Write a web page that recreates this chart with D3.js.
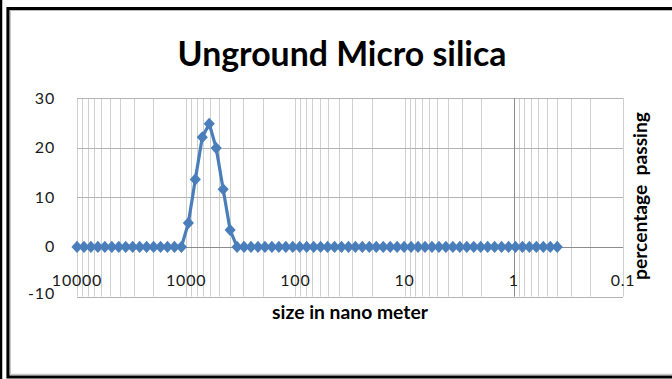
<!DOCTYPE html>
<html><head><meta charset="utf-8">
<script src="https://cdn.jsdelivr.net/npm/d3@7"></script>
<style>
html,body{margin:0;padding:0;background:#fff;}
svg{display:block;}
text{font-family:Lato, "Open Sans", sans-serif;}
</style></head>
<body><svg id="c" width="672" height="379"></svg>
<script>
// Size classes (nm)
const sizes = [0.4, 0.4632, 0.5365, 0.6213, 0.7195, 0.8332, 0.9649, 1.117, 1.294, 1.499,
  1.736, 2.010, 2.328, 2.696, 3.122, 3.615, 4.187, 4.849, 5.615, 6.503,
  7.531, 8.721, 10.10, 11.70, 13.54, 15.69, 18.17, 21.04, 24.36, 28.21,
  32.67, 37.84, 43.82, 50.75, 58.77, 68.06, 78.82, 91.28, 105.7, 122.4,
  141.8, 164.2, 190.1, 220.2, 255.0, 295.3, 342.0, 396.1, 458.7, 531.2,
  615.1, 712.4, 825.0, 955.4, 1106, 1281, 1484, 1718, 1990, 2305,
  2669, 3091, 3580, 4145, 4801, 5560, 6439, 7456, 8635, 10000];
const percentPassing = [0, 0, 0, 0, 0, 0, 0, 0, 0, 0,
  0, 0, 0, 0, 0, 0, 0, 0, 0, 0,
  0, 0, 0, 0, 0, 0, 0, 0, 0, 0,
  0, 0, 0, 0, 0, 0, 0, 0, 0, 0,
  0, 0, 0, 0, 0, 0, 0, 3.4, 11.6, 19.9,
  24.8, 22.1, 13.6, 4.8, 0, 0, 0, 0, 0, 0,
  0, 0, 0, 0, 0, 0, 0, 0, 0, 0];
const xTickValues = [10000, 1000, 100, 10, 1, 0.1];
const xTickLabels = ["10000", "1000", "100", "10", "1", "0.1"];
const yTickValues = [-10, 0, 10, 20, 30];
const title = "Unground Micro silica";
const xTitle = "size in nano meter";
const yTitle = "percentage  passing";

const svg = d3.select("#c");
const W = 672, H = 379;
const L = 77, R = 623, T = 98, B = 296.5;

function fitWidth(sel, target) {
  const fs = +sel.attr("font-size");
  const w = sel.node().getComputedTextLength();
  if (w > 0) sel.attr("font-size", fs * target / w);
  return sel;
}

// frame
svg.append("rect").attr("x",0).attr("y",0).attr("width",W).attr("height",H).attr("fill","#fff");
svg.append("line").attr("x1",1).attr("x2",1).attr("y1",0).attr("y2",H).attr("stroke","#000").attr("stroke-width",2.5);
svg.append("path").attr("d",`M${W+5},8.5 H8 V377 H${W+5}`).attr("fill","none").attr("stroke","#000").attr("stroke-width",3.2);
svg.append("path").attr("d",`M${W+5},10.5 H10.3 V374.3 H${W+5}`).attr("fill","none").attr("stroke","#b8b8b8").attr("stroke-width",1);

const x = d3.scaleLog().domain([10000, 0.1]).range([L, R]);
const y = d3.scaleLinear().domain([-10, 30]).range([B, T]);

// vertical gridlines (log minor + major)
const g = svg.append("g");
g.selectAll(".vg").data(x.ticks()).join("line")
  .attr("x1", d => Math.round(x(d)) + 0.5).attr("x2", d => Math.round(x(d)) + 0.5)
  .attr("y1", T).attr("y2", B).attr("stroke", "#cfcfcf").attr("stroke-width", 1);
// horizontal gridlines
g.selectAll(".hg").data(yTickValues).join("line")
  .attr("x1", L).attr("x2", R)
  .attr("y1", d => Math.round(y(d)) + 0.5).attr("y2", d => Math.round(y(d)) + 0.5)
  .attr("stroke", "#b4b4b4").attr("stroke-width", 1);
// axis lines (vertical axis crosses at 1, horizontal at 0)
g.append("line").attr("x1", Math.round(x(1)) + 0.5).attr("x2", Math.round(x(1)) + 0.5)
  .attr("y1", T).attr("y2", B).attr("stroke", "#8c8c8c");
g.append("line").attr("x1", L).attr("x2", R)
  .attr("y1", Math.round(y(0)) + 0.5).attr("y2", Math.round(y(0)) + 0.5).attr("stroke", "#8c8c8c");

// tick labels
svg.selectAll(".xl").data(xTickValues).join("text")
  .attr("x", d => x(d)).attr("y", 286)
  .attr("text-anchor", "middle").attr("font-size", 16).attr("letter-spacing", 0.8).attr("fill", "#1a1a1a")
  .text((d, i) => xTickLabels[i]);
svg.selectAll(".yl").data(yTickValues).join("text")
  .attr("x", 55).attr("y", d => y(d) + 5.5 - (d === -10 ? 3.5 : 0))
  .attr("text-anchor", "end").attr("font-size", 16).attr("letter-spacing", 0.8).attr("fill", "#1a1a1a")
  .text(d => d);

// series
const pts = sizes.map((s, i) => [s, percentPassing[i]]);
svg.append("path").datum(pts)
  .attr("d", d3.line().x(d => x(d[0])).y(d => y(d[1])))
  .attr("fill", "none").attr("stroke", "#4a7ebb").attr("stroke-width", 3.2).attr("stroke-linejoin", "round");
const sym = d3.symbol().type(d3.symbolSquare).size(62);
svg.selectAll(".m").data(pts).join("path")
  .attr("transform", d => `translate(${x(d[0])},${y(d[1])}) scale(1,1.08) rotate(45)`)
  .attr("d", sym).attr("fill", "#4a7ebb");

// titles
const t1 = svg.append("text").attr("x", 342).attr("y", 66).attr("text-anchor", "middle")
  .attr("font-size", 30).attr("font-weight", "bold").attr("fill", "#000").text(title);
fitWidth(t1, 329);
const t2 = svg.append("text").attr("x", 350).attr("y", 319).attr("text-anchor", "middle")
  .attr("font-size", 15).attr("font-weight", "bold").attr("fill", "#000").text(xTitle);
fitWidth(t2, 156);
const t3 = svg.append("text").attr("transform", "translate(647,196) rotate(-90)").attr("text-anchor", "middle")
  .attr("font-size", 15).attr("font-weight", "bold").attr("fill", "#000")
  .attr("xml:space", "preserve").style("white-space", "pre").text(yTitle);
fitWidth(t3, 168);
</script></body></html>
